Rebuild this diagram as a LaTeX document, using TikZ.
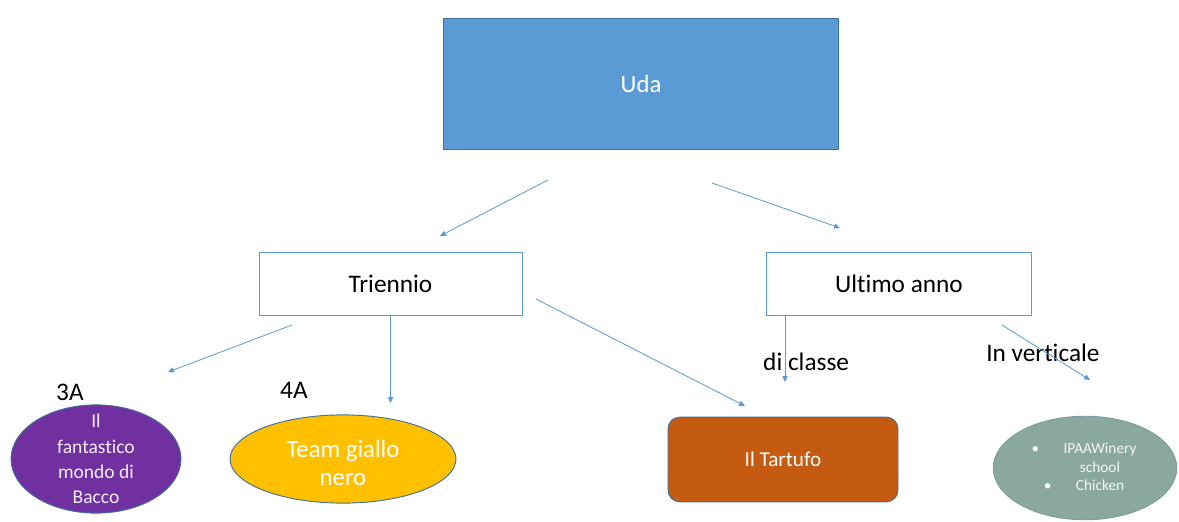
\documentclass[tikz,border=0pt]{standalone}
\usepackage{fontspec}
\setmainfont{Carlito}[Ligatures=NoCommon]
\usetikzlibrary{shapes.geometric, arrows.meta, positioning, calc}
\definecolor{udBlue}{HTML}{5B9BD5}
\definecolor{udEdge}{HTML}{41719C}
\definecolor{udPurple}{HTML}{7030A0}
\definecolor{udYellow}{HTML}{FFC000}
\definecolor{udBrown}{HTML}{C55A11}
\definecolor{udSage}{HTML}{8BA89F}
\tikzset{
  udbox/.style={rectangle, draw=udBlue, line width=0.8pt, fill=white, text=black,
                font=\fontsize{21.5}{25}\selectfont, inner sep=0pt},
  udoval/.style={ellipse, draw=udEdge, line width=0.8pt, inner sep=0pt},
  udtext/.style={text=white, align=center, inner sep=0pt},
  udlabel/.style={font=\fontsize{21.5}{25}\selectfont, anchor=west, inner sep=0pt},
  udflow/.style={-{Triangle[length=5pt, width=4.5pt]}, line width=0.7pt, color=udBlue},
}

\begin{document}
\begin{tikzpicture}[x=0.85pt, y=-0.85pt]
  \useasboundingbox (0,0) rectangle (1179,521);
  % top level
  \node[udbox, fill=udBlue, draw=udEdge, text=white, font=\fontsize{21}{25}\selectfont,
        minimum width=335pt, minimum height=112pt] (uda) at (641,84) {Uda};
  \node[udbox, minimum width=223.5pt, minimum height=53.5pt] (tri) at (390.5,283.5) {Triennio};
  \node[udbox, minimum width=226pt, minimum height=53.5pt] (ult) at (899,283.5) {Ultimo anno};
  % classes
  \node[udoval, fill=udPurple, minimum width=144.5pt, minimum height=92pt] (bacco) at (96,459) {};
  \node[udtext, font=\fontsize{16.6}{21.5}\selectfont, text=white!92!udPurple]
    (baccotxt) at (bacco.center) {Il\\fantastico\\mondo di\\Bacco};
  \node[udoval, fill=udYellow, minimum width=192pt, minimum height=75pt] (team) at (343,459) {};
  \node[udtext, font=\fontsize{21}{24.5}\selectfont] (teamtxt) at (343,463) {Team giallo\\nero};
  \node[rectangle, rounded corners=10pt, draw=udEdge, line width=0.8pt, fill=udBrown,
        minimum width=195.5pt, minimum height=72pt] (tartufo) at (783,459.5) {};
  \node[udtext, font=\fontsize{18}{21}\selectfont] (tartufotxt) at (tartufo.center) {Il Tartufo};
  \node[udoval, fill=udSage, draw=udSage!80!udEdge, minimum width=156pt, minimum height=88pt]
    (winery) at (1085,468) {};
  \node[udtext, font=\fontsize{13}{15.5}\selectfont, text=white!90!udSage] (winerytxt) at (1100,467)
    {\llap{\textbullet\hspace{1.6em}}IPAAWinery\\school\\\llap{\textbullet\hspace{1.6em}}Chicken};
  % labels
  \node[udlabel] (l3a) at (56,392) {3A};
  \node[udlabel] (l4a) at (280,390) {4A};
  \node[udlabel] (lcl) at (763,362) {di classe};
  \node[udlabel] (lvt) at (986,353) {In verticale};
  % arrow ends
  \coordinate (u1) at (548,180);  \coordinate (u2) at (440,236);
  \coordinate (u3) at (712,183);  \coordinate (u4) at (840,228);
  \coordinate (t1) at (292,325);  \coordinate (t2) at (168,372);
  \coordinate (t3) at (390.5,403);
  \coordinate (t4) at (536,299);  \coordinate (t5) at (745,406);
  \coordinate (c1) at (785,315);  \coordinate (c2) at (785,382);
  \coordinate (v1) at (1002,325); \coordinate (v2) at (1090,380);
  \draw[udflow] (u1) -- (u2);
  \draw[udflow] (u3) -- (u4);
  \draw[udflow] (t1) -- (t2);
  \draw[udflow] (tri.south) -- (t3);
  \draw[udflow] (t4) -- (t5);
  \draw[udflow] (c1) -- (c2);
  \draw[udflow] (v1) -- (v2);
\end{tikzpicture}
\end{document}
